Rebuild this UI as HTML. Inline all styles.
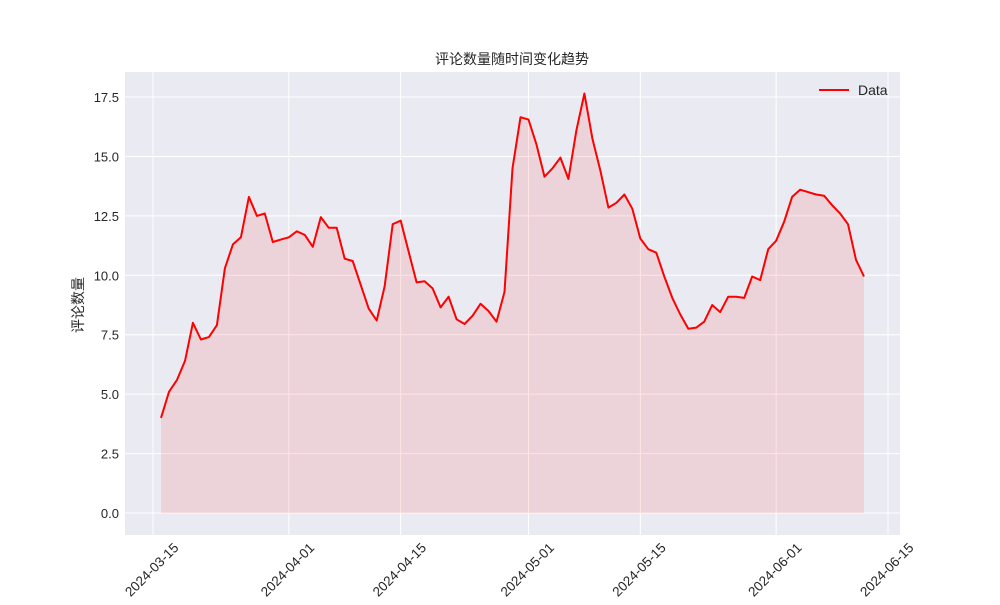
<!DOCTYPE html>
<html><head><meta charset="utf-8"><style>
body{margin:0;background:#fff;}
svg text{font-family:"Liberation Sans","Noto Sans CJK SC",sans-serif;fill:#262626;}
</style></head><body>
<svg id="chart" width="1000" height="600" xmlns="http://www.w3.org/2000/svg">
<rect x="125" y="72" width="775" height="463" fill="#eaeaf2"/>
<g id="grid"></g>
<g id="axes"></g>
<g id="marks"></g>
<text x="512" y="64" text-anchor="middle" font-size="14">评论数量随时间变化趋势</text>
<text transform="translate(83,305) rotate(-90)" text-anchor="middle" font-size="14">评论数量</text>
<g>
<line x1="819" y1="90" x2="849" y2="90" stroke="#ff0000" stroke-width="2"/>
<text x="858" y="95" font-size="14">Data</text>
</g>
</svg>
<script>
const startDate = "2024-03-16";
const values = [4.0,5.1,5.6,6.4,8.0,7.3,7.4,7.9,10.3,11.3,11.6,13.3,12.5,12.6,11.4,11.5,11.6,11.85,11.7,11.2,12.45,12.0,12.0,10.7,10.6,9.6,8.6,8.1,9.55,12.15,12.3,11.0,9.7,9.75,9.45,8.65,9.1,8.15,7.95,8.3,8.8,8.5,8.05,9.3,14.5,16.65,16.55,15.5,14.15,14.5,14.95,14.05,16.1,17.65,15.75,14.4,12.85,13.05,13.4,12.8,11.55,11.1,10.95,9.95,9.05,8.35,7.75,7.8,8.05,8.75,8.45,9.1,9.1,9.05,9.95,9.8,11.1,11.45,12.25,13.3,13.6,13.5,13.4,13.35,12.95,12.6,12.15,10.65,9.95];
const yTicks = [0,2.5,5,7.5,10,12.5,15,17.5];
const xTickLabels = ["2024-03-15","2024-04-01","2024-04-15","2024-05-01","2024-05-15","2024-06-01","2024-06-15"];
const NS="http://www.w3.org/2000/svg";
const day=86400000, t0=Date.parse("2024-03-15T00:00:00Z");
function xs(d){return 153+(Date.parse(d+"T00:00:00Z")-t0)/day*7.989;}
function xi(i){return xs(startDate)+i*7.989;}
function ys(v){return 513-v*23.77;}
function mk(tag,attrs,parent){const e=document.createElementNS(NS,tag);for(const k in attrs)e.setAttribute(k,attrs[k]);document.getElementById(parent).appendChild(e);return e;}
yTicks.forEach(v=>{
 const g=mk("line",{x1:125,x2:900,y1:ys(v),y2:ys(v),stroke:"#fff","stroke-width":1},"grid");
 
 
 const t=mk("text",{x:119,y:ys(v)+5,"text-anchor":"end","font-size":"13"},"axes");
 t.textContent=v.toFixed(1);
 
 
});
xTickLabels.forEach(d=>{
 const x=xs(d);
 const g=mk("line",{x1:x,x2:x,y1:72,y2:535,stroke:"#fff","stroke-width":1},"grid");
 
 
 const t=mk("text",{transform:`translate(${x+2},${573}) rotate(-45)`,"text-anchor":"middle","font-size":"13.5"},"axes");
 t.textContent=d;
 
 
});
let pts=values.map((v,i)=>xi(i).toFixed(1)+","+ys(v).toFixed(1));
const area=mk("polygon",{points:xi(0)+","+ys(0)+" "+pts.join(" ")+" "+xi(values.length-1)+","+ys(0),fill:"#ff0000","fill-opacity":"0.1"},"marks");


const line=mk("polyline",{points:pts.join(" "),fill:"none",stroke:"#ff0000","stroke-width":2,"stroke-linejoin":"round"},"marks");


</script>
</body></html>
